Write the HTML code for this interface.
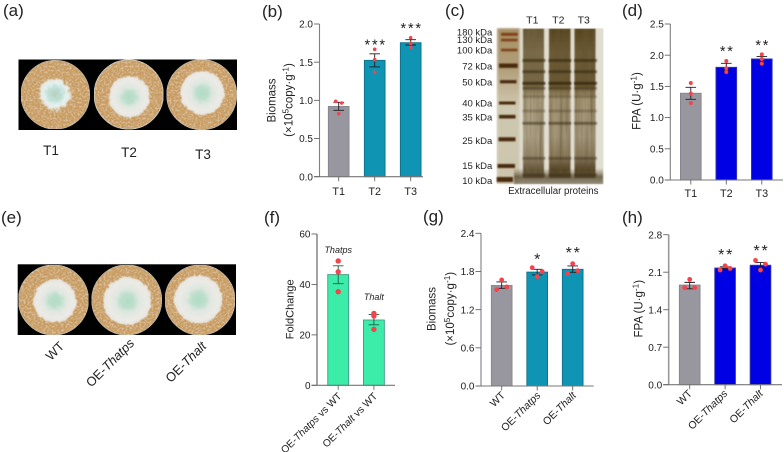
<!DOCTYPE html>
<html>
<head>
<meta charset="utf-8">
<style>
html,body{margin:0;padding:0;background:#fff;width:784px;height:452px;overflow:hidden}
svg{display:block}
text{font-family:"Liberation Sans",Arial,sans-serif;fill:#222}
</style>
</head>
<body>
<svg id="fig" width="784" height="452" viewBox="0 0 784 452" xmlns="http://www.w3.org/2000/svg">
<defs>
<filter id="grain" x="0" y="0" width="100%" height="100%">
<feTurbulence type="fractalNoise" baseFrequency="0.5" numOctaves="2" seed="4" result="n"/>
<feColorMatrix in="n" type="matrix" values="0 0 0 0 0.5  0 0 0 0 0.3  0 0 0 0 0.1  1.2 0 0 0 -0.48" result="d"/>
<feComposite in="d" in2="SourceGraphic" operator="in" result="c"/>
<feColorMatrix in="n" type="matrix" values="0 0 0 0 1  0 0 0 0 0.9  0 0 0 0 0.72  0 1 0 0 -0.42" result="l"/>
<feComposite in="l" in2="SourceGraphic" operator="in" result="c2"/>
<feMerge result="m"><feMergeNode in="SourceGraphic"/><feMergeNode in="c"/><feMergeNode in="c2"/></feMerge>
<feGaussianBlur in="m" stdDeviation="0.35"/>
</filter>
<filter id="fuzzy" x="-25%" y="-25%" width="150%" height="150%">
<feTurbulence type="fractalNoise" baseFrequency="0.22" numOctaves="2" seed="9" result="n"/>
<feDisplacementMap in="SourceGraphic" in2="n" scale="4" xChannelSelector="R" yChannelSelector="G" result="d"/>
<feGaussianBlur in="d" stdDeviation="0.5"/>
</filter>
<filter id="fuzzyA" x="-35%" y="-35%" width="170%" height="170%">
<feTurbulence type="fractalNoise" baseFrequency="0.3" numOctaves="2" seed="3" result="n"/>
<feDisplacementMap in="SourceGraphic" in2="n" scale="8" xChannelSelector="R" yChannelSelector="G" result="d"/>
<feGaussianBlur in="d" stdDeviation="0.9"/>
</filter>
<filter id="streak" x="-12%" y="0" width="124%" height="100%">
<feTurbulence type="fractalNoise" baseFrequency="0.45 0.012" numOctaves="2" seed="7" result="n"/>
<feColorMatrix in="n" type="matrix" values="0 0 0 0 0.13  0 0 0 0 0.09  0 0 0 0 0.03  1.6 0 0 0 -0.55" result="d"/>
<feComposite in="d" in2="SourceGraphic" operator="in" result="c"/>
<feMerge result="m"><feMergeNode in="SourceGraphic"/><feMergeNode in="c"/></feMerge>
<feGaussianBlur in="m" stdDeviation="0.7"/>
</filter>
<filter id="soft" x="-20%" y="-20%" width="140%" height="140%"><feGaussianBlur stdDeviation="1.1"/></filter>
<filter id="soft2" x="-20%" y="-120%" width="140%" height="340%"><feGaussianBlur stdDeviation="0.7"/></filter>
<radialGradient id="myc"><stop offset="0" stop-color="#b0dcc4"/><stop offset="0.28" stop-color="#bcdfcc"/><stop offset="0.5" stop-color="#dfe7e0"/><stop offset="0.8" stop-color="#eceae5"/><stop offset="1" stop-color="#e7e5df"/></radialGradient>
<radialGradient id="mycA"><stop offset="0" stop-color="#b9cdbd"/><stop offset="0.45" stop-color="#bfe0d6"/><stop offset="0.72" stop-color="#e6f2f0"/><stop offset="1" stop-color="#e6e5de"/></radialGradient>
<linearGradient id="lane" x1="0" y1="0" x2="0" y2="1">
<stop offset="0" stop-color="#54431f"/><stop offset="0.16" stop-color="#6d5c38"/><stop offset="0.38" stop-color="#6a5732"/>
<stop offset="0.47" stop-color="#a89a78"/><stop offset="0.72" stop-color="#a79a7c"/><stop offset="0.86" stop-color="#8b7b5e"/>
<stop offset="0.95" stop-color="#4a3a20"/><stop offset="1" stop-color="#6f6549"/>
</linearGradient>
<linearGradient id="ladderLane" x1="0" y1="0" x2="0" y2="1">
<stop offset="0" stop-color="#a89066"/><stop offset="0.25" stop-color="#b09d78"/><stop offset="0.5" stop-color="#cfc8b0"/><stop offset="1" stop-color="#cdc5ae"/>
</linearGradient>
<linearGradient id="gelFoot" x1="0" y1="0" x2="0" y2="1">
<stop offset="0" stop-color="#6a5a3c" stop-opacity="0"/><stop offset="0.55" stop-color="#4d3f24" stop-opacity="0.75"/><stop offset="1" stop-color="#6a6048" stop-opacity="0.65"/>
</linearGradient>
</defs>
<rect width="784" height="452" fill="#fff"/>
<g font-size="17">
<text x="3" y="16">(a)</text>
<text x="262" y="17">(b)</text>
<text x="445" y="16">(c)</text>
<text x="622" y="16">(d)</text>
<text x="1" y="223">(e)</text>
<text x="264" y="223">(f)</text>
<text x="423" y="222">(g)</text>
<text x="622" y="223">(h)</text>
</g>
<g>
<rect x="18.5" y="59.5" width="218.5" height="70.5" fill="#000"/>
<circle cx="55.3" cy="94.7" r="34.3" fill="#c99c62" stroke="#b8b4a8" stroke-width="0.8" filter="url(#grain)"/>
<circle cx="128.7" cy="94.5" r="34.6" fill="#c99c62" stroke="#c4c2bc" stroke-width="1" filter="url(#grain)"/>
<circle cx="201.7" cy="94.7" r="35" fill="#c99c62" stroke="#b8b4a8" stroke-width="0.8" filter="url(#grain)"/>
<circle cx="55" cy="94" r="15.5" fill="url(#mycA)" filter="url(#fuzzyA)"/>
<circle cx="129.3" cy="97" r="20.5" fill="url(#myc)" filter="url(#fuzzy)"/>
<circle cx="202.3" cy="93" r="22" fill="url(#myc)" filter="url(#fuzzy)"/>
</g>
<g font-size="13.5" text-anchor="middle">
<text x="51" y="155">T1</text>
<text x="129" y="157">T2</text>
<text x="203" y="159">T3</text>
</g>
<g>
<rect x="17.7" y="264.3" width="218.3" height="70.7" fill="#000"/>
<circle cx="53.5" cy="300" r="35" fill="#c99c62" stroke="#bcb8ac" stroke-width="0.8" filter="url(#grain)"/>
<circle cx="126.7" cy="300" r="35" fill="#c99c62" stroke="#b8b4a8" stroke-width="0.8" filter="url(#grain)"/>
<circle cx="200" cy="300" r="35" fill="#c99c62" stroke="#b8b4a8" stroke-width="0.8" filter="url(#grain)"/>
<circle cx="55" cy="301" r="21.5" fill="url(#myc)" filter="url(#fuzzy)"/>
<circle cx="127.3" cy="301" r="24" fill="url(#myc)" filter="url(#fuzzy)"/>
<circle cx="198.5" cy="299.5" r="24" fill="url(#myc)" filter="url(#fuzzy)"/>
</g>
<g font-size="12.8" text-anchor="end">
<text transform="translate(65,347) rotate(-45)">WT</text>
<text transform="translate(135,344) rotate(-45)">OE-<tspan font-style="italic">Thatps</tspan></text>
<text transform="translate(207,347) rotate(-45)">OE-<tspan font-style="italic">Thalt</tspan></text>
</g>
<g id="gel">
<rect x="496.7" y="28.3" width="106.7" height="155.7" fill="#e0ddd1"/>
<rect x="497.5" y="28.5" width="22" height="155" fill="url(#ladderLane)" filter="url(#soft)"/>
<rect x="523" y="28.5" width="21" height="150" fill="url(#lane)" opacity="0.88" filter="url(#streak)"/>
<rect x="549" y="28.5" width="21.5" height="150" fill="url(#lane)" filter="url(#streak)"/>
<rect x="574.5" y="28.5" width="21" height="150" fill="url(#lane)" filter="url(#streak)"/>
<rect x="514" y="168" width="89" height="16" fill="url(#gelFoot)" filter="url(#soft2)"/>
</g>
<g font-size="9.5" text-anchor="end">
<text x="492.3" y="35.5">180 kDa</text>
<text x="492.3" y="43">130 kDa</text>
<text x="492.3" y="53.5">100 kDa</text>
<text x="492.3" y="69.5">72 kDa</text>
<text x="492.3" y="85.5">50 kDa</text>
<text x="492.3" y="106.5">40 kDa</text>
<text x="492.3" y="120.5">35 kDa</text>
<text x="492.3" y="144">25 kDa</text>
<text x="492.3" y="169">15 kDa</text>
<text x="492.3" y="184">10 kDa</text>
</g>
<g font-size="10.5" text-anchor="middle">
<text x="532.3" y="23.5">T1</text>
<text x="558.3" y="23.5">T2</text>
<text x="583.7" y="23.5">T3</text>
</g>
<text x="553.3" y="194" font-size="9.7" text-anchor="middle">Extracellular proteins</text>
</svg>
<script>
const NS = 'http://www.w3.org/2000/svg';
const fig = document.getElementById('fig');

/* panel b */
const bCategories = ['T1','T2','T3'];
const bValues = [0.92,1.524,1.755];
const bErrLow = [0.869,1.437,1.725];
const bErrHigh = [0.974,1.61,1.795];
const bPoints = [[0.987,0.965,0.825],[1.668,1.533,1.367],[1.82,1.747,1.694]];
const bSlots = [[-1,1,0],[0,0,0],[0,0,0]];
const bTicks = ['0.0','0.5','1.0','1.5','2.0'];
const bStars = ['','***','***'];
/* panel d */
const dCategories = ['T1','T2','T3'];
const dValues = [1.39,1.806,1.94];
const dErrLow = [1.293,1.763,1.896];
const dErrHigh = [1.485,1.87,1.98];
const dPoints = [[1.554,1.384,1.234],[1.907,1.79,1.73],[2.014,1.94,1.864]];
const dSlots = [[0,0,0],[0,0,0],[0,0,0]];
const dTicks = ['0.0','0.5','1.0','1.5','2.0','2.5'];
const dStars = ['','**','**'];
/* panel f */
const fCategories = ['OE-|Thatps| vs WT','OE-|Thalt| vs WT'];
const fValues = [43.9,25.9];
const fErrLow = [40.3,24];
const fErrHigh = [47.4,28.1];
const fPoints = [[49.3,45,37.1],[28.5,27.5,22.2]];
const fSlots = [[0,0,0],[0,0,0]];
const fTicks = ['0','20','40','60'];
const fGeneLabels = ['Thatps','Thalt'];
/* panel g */
const gCategories = ['WT','OE-|Thatps|','OE-|Thalt|'];
const gValues = [1.58,1.79,1.834];
const gErrLow = [1.535,1.745,1.787];
const gErrHigh = [1.635,1.834,1.887];
const gPoints = [[1.667,1.557,1.515],[1.86,1.8,1.72],[1.923,1.813,1.77]];
const gSlots = [[0,1,-1],[-1,1,0],[0,1,-1]];
const gTicks = ['0.0','0.6','1.2','1.8','2.4'];
const gStars = ['','*','**'];
/* panel h */
const hCategories = ['WT','OE-|Thatps|','OE-|Thalt|'];
const hValues = [1.86,2.178,2.23];
const hErrLow = [1.79,2.165,2.18];
const hErrHigh = [1.91,2.2,2.28];
const hPoints = [[1.966,1.81,1.81],[2.22,2.17,2.14],[2.32,2.25,2.14]];
const hSlots = [[0,-1,1],[0,1,-1],[-1,1,0]];
const hTicks = ['0.0','0.7','1.4','2.1','2.8'];
const hStars = ['','**','**'];

function svgEl(tag, parent, attrs) {
  const el = document.createElementNS(NS, tag);
  for (const k in attrs) el.setAttribute(k, attrs[k]);
  parent.appendChild(el);
  return el;
}

function drawChart(cfg) {
  const g = svgEl('g', fig, {});
  
  
  const tickVals = cfg.ticks.map(Number);
  const yMax = Math.max.apply(null, tickVals);
  const yScale = v => cfg.y0 - (v / yMax) * (cfg.y0 - cfg.yTop);
  const xScale = i => cfg.x0 + i * cfg.step;

  cfg.values.forEach((v, i) => {
    const cx = xScale(i);
    const color = cfg.colors[Math.min(i, cfg.colors.length - 1)];
    const bar = svgEl('rect', g, {
      x: cx - cfg.barW / 2, y: yScale(v), width: cfg.barW, height: cfg.y0 - yScale(v),
      fill: color[0], stroke: color[1], 'stroke-width': 0.9
    });
    
    
  });

  const yAxis = svgEl('line', g, {x1: cfg.axisX, x2: cfg.axisX, y1: cfg.yTop, y2: cfg.y0, stroke: cfg.axisColor, 'stroke-width': cfg.axisW});
  
  
  const xAxis = svgEl('line', g, {x1: cfg.axisX - 5.5, x2: cfg.xEnd, y1: cfg.y0, y2: cfg.y0, stroke: '#777', 'stroke-width': 1.1});
  
  

  cfg.ticks.forEach((t, i) => {
    const y = yScale(tickVals[i]);
    const tick = svgEl('line', g, {x1: cfg.axisX - 5.5, x2: cfg.axisX, y1: y, y2: y, stroke: '#666', 'stroke-width': 0.9});
    
    
    const label = svgEl('text', g, {x: cfg.axisX - 6.5, y: y + 3.6, 'font-size': 10, 'text-anchor': 'end'});
    label.textContent = t;
    
    
  });

  cfg.categories.forEach((c, i) => {
    const cx = xScale(i);
    const tick = svgEl('line', g, {x1: cx, x2: cx, y1: cfg.y0, y2: cfg.y0 + 4.5, stroke: '#666', 'stroke-width': 0.9});
    
    
    const attrs = cfg.rotate
      ? {transform: 'translate(' + (cx + cfg.labelDx) + ',' + (cfg.y0 + cfg.labelDy) + ') rotate(-45)', 'font-size': cfg.xFont, 'text-anchor': 'end'}
      : {x: cx, y: cfg.y0 + cfg.labelDy, 'font-size': cfg.xFont, 'text-anchor': 'middle'};
    const label = svgEl('text', g, attrs);
    
    
    c.split('|').forEach((part, k) => {
      const span = svgEl('tspan', label, k === 1 ? {'font-style': 'italic'} : {});
      span.textContent = part;
    });
  });

  cfg.values.forEach((v, i) => {
    const cx = xScale(i);
    const lo = yScale(cfg.errLow[i]);
    const hi = yScale(cfg.errHigh[i]);
    const err = svgEl('path', g, {
      d: 'M' + cx + ' ' + lo + 'V' + hi +
         'M' + (cx - cfg.cap) + ' ' + lo + 'h' + (2 * cfg.cap) +
         'M' + (cx - cfg.cap) + ' ' + hi + 'h' + (2 * cfg.cap),
      fill: 'none', stroke: cfg.errColor, 'stroke-width': 0.9
    });
    
    
    cfg.points[i].forEach((p, k) => {
      const dot = svgEl('circle', g, {cx: cx + cfg.slots[i][k] * cfg.slotW, cy: yScale(p), r: cfg.dotR, fill: '#f5424c'});
      
      
    });
    if (cfg.stars && cfg.stars[i]) {
      const mark = svgEl('text', g, {
        x: cx + 1, y: yScale(cfg.errHigh[i]) - cfg.starGap[i] + 0.58 * cfg.starSize,
        'font-size': cfg.starSize, 'text-anchor': 'middle', 'letter-spacing': cfg.starSpace
      });
      mark.textContent = cfg.stars[i];
      
      
    }
  });

  cfg.titles.forEach(tt => {
    const title = svgEl('text', g, {
      transform: 'translate(' + tt.x + ',' + tt.y + ') rotate(-90)',
      'font-size': tt.size, 'text-anchor': 'middle'
    });
    
    
    tt.parts.forEach(p => {
      const span = svgEl('tspan', title, p.sup ? {'font-size': tt.size * 0.72, dy: -4} : {dy: p.after ? 4 : 0});
      span.textContent = p.t;
    });
  });
  return {xScale, yScale, g};
}

const GRAY = ['#98979f','#85858a'];
const TEAL = ['#0f95b3','#0c7089'];
const BLUE = ['#0000e4','#3737a8'];
const MINT = ['#3cedaa','#3f9c80'];
const biomassParts = [{t:'(×10'},{t:'5',sup:true},{t:'copy·g',after:true},{t:'-1',sup:true},{t:')',after:true}];
const fpaParts = [{t:'FPA (U·g'},{t:'-1',sup:true},{t:')',after:true}];

drawChart({name:'biomass-chart-b', categories:bCategories, values:bValues, errLow:bErrLow, errHigh:bErrHigh, points:bPoints, slots:bSlots, ticks:bTicks, stars:bStars,
  starGap:[0,12.5,15], starSize:14.5, starSpace:1.8, colors:[GRAY,TEAL], axisX:319.5, y0:176.7, yTop:24, xEnd:423, x0:338.7, step:36, barW:20.7, axisColor:'#808080', axisW:1.1,
  xFont:10.8, labelDy:18.5, cap:5.3, errColor:'#1c1c1c', dotR:1.8, slotW:3,
  titles:[{x:275.3,y:100.5,size:11.5,parts:[{t:'Biomass'}]},{x:292.7,y:100,size:11.5,parts:biomassParts}]});

drawChart({name:'fpa-chart-d', categories:dCategories, values:dValues, errLow:dErrLow, errHigh:dErrHigh, points:dPoints, slots:dSlots, ticks:dTicks, stars:dStars,
  starGap:[0,15.5,15], starSize:14.5, starSpace:1.8, colors:[GRAY,BLUE], axisX:670.3, y0:180, yTop:24, xEnd:783, x0:690.8, step:35.5, barW:20.7, axisColor:'#808080', axisW:1.1,
  xFont:10.8, labelDy:17, cap:5.3, errColor:'#1c1c1c', dotR:2, slotW:0,
  titles:[{x:640.7,y:101,size:11.5,parts:fpaParts}]});

const fChart = drawChart({name:'foldchange-chart-f', categories:fCategories, values:fValues, errLow:fErrLow, errHigh:fErrHigh, points:fPoints, slots:fSlots, ticks:fTicks,
  colors:[MINT], axisX:317, y0:385.3, yTop:234, xEnd:395, x0:338.2, step:35.7, barW:20.9, axisColor:'#999', axisW:1.8,
  rotate:true, xFont:10.2, labelDx:4, labelDy:11.5, cap:5.3, errColor:'#1e5a46', dotR:2.7, slotW:0,
  titles:[{x:293.3,y:309.3,size:11,parts:[{t:'FoldChange'}]}]});

fGeneLabels.forEach((name, i) => {
  const label = svgEl('text', fChart.g, {x: fChart.xScale(i), y: fChart.yScale(fErrHigh[i]) - (i === 0 ? 13 : 14.5), 'font-size': 9, 'font-style': 'italic', 'text-anchor': 'middle'});
  label.textContent = name;
  
  
});

drawChart({name:'biomass-chart-g', categories:gCategories, values:gValues, errLow:gErrLow, errHigh:gErrHigh, points:gPoints, slots:gSlots, ticks:gTicks, stars:gStars,
  starGap:[0,14,17], starSize:16, starSpace:1.8, colors:[GRAY,TEAL], axisX:481, y0:386, yTop:233.3, xEnd:593.7, x0:501.7, step:35.5, barW:20.7, axisColor:'#808080', axisW:1.1,
  rotate:true, xFont:10.5, labelDx:4, labelDy:10, cap:5.3, errColor:'#1c1c1c', dotR:2.4, slotW:5,
  titles:[{x:435.3,y:309,size:11.5,parts:[{t:'Biomass'}]},{x:454,y:308.7,size:11.5,parts:biomassParts}]});

drawChart({name:'fpa-chart-h', categories:hCategories, values:hValues, errLow:hErrLow, errHigh:hErrHigh, points:hPoints, slots:hSlots, ticks:hTicks, stars:hStars,
  starGap:[0,16,16], starSize:16, starSpace:1.8, colors:[GRAY,BLUE], axisX:668.7, y0:384.7, yTop:234.7, xEnd:782, x0:689.7, step:35.4, barW:20.7, axisColor:'#999', axisW:1.6,
  rotate:true, xFont:10.5, labelDx:3, labelDy:9.5, cap:5.3, errColor:'#1c1c1c', dotR:2.4, slotW:5,
  titles:[{x:642.3,y:308.7,size:11.5,parts:fpaParts}]});

/* gel bands */
const gel = document.getElementById('gel');
const ladderBandY = [34.3,40,50,65.7,81.7,103,116.7,139.3,166,179.5];
const ladderBandT = [3,2.6,2.6,4.4,3.2,3,3.6,4,4,5];
const ladderBandL = [501,501,501,499,500,499,499,498.5,497.5,496.7];
const ladderBandR = [517.7,517.5,517.5,517.7,516.5,515.5,515.5,515.5,515,513];
ladderBandY.forEach((y, i) => {
  const band = svgEl('rect', gel, {x: ladderBandL[i], y: y - ladderBandT[i] / 2, width: ladderBandR[i] - ladderBandL[i], height: ladderBandT[i], fill: i < 3 ? '#7d4218' : '#4a2a10', filter: 'url(#soft2)'});
  
  
});
const laneLefts = [522.5,548.5,574];
const sampleBandY = [60.5,71.7,83.3,88.3,96.7,111,123.3,158.3,175];
const sampleBandO = [.6,.55,.75,.4,.22,.25,.5,.4,.4];
laneLefts.forEach(left => {
  sampleBandY.forEach((y, i) => {
    const band = svgEl('rect', gel, {x: left, y: y - 1.4, width: 23, height: 2.8, fill: '#2f2210', opacity: sampleBandO[i], filter: 'url(#soft2)'});
    
    
  });
});
</script>
</body>
</html>
